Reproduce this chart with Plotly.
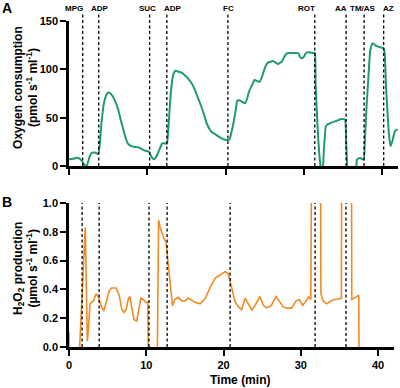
import plotly.graph_objects as go

# ---------------- data ----------------
o2_time = [0, 0.5, 1.0, 1.4, 1.75, 2.1, 2.3, 2.6, 2.9, 3.3, 3.7, 3.9, 4.1, 4.4, 4.7, 5.0, 5.3, 5.6, 6.0, 6.3,
           6.6, 6.9, 7.2, 7.5, 7.9, 8.3, 9.0, 9.7, 10.2, 10.5, 10.8, 11.1, 11.4, 11.7, 11.9, 12.2, 12.5, 12.7,
           13.0, 13.3, 13.6, 14.0, 14.4, 14.8, 15.2, 15.7, 16.1, 16.4, 16.7, 17.2, 17.6, 18.2, 18.85, 19.5,
           20.1, 20.5, 20.75, 21.0, 21.3, 21.5, 21.8, 22.2, 22.5, 22.8, 23.0, 23.4, 23.7, 24.0, 24.3, 24.6,
           24.8, 25.1, 25.4, 25.8, 26.1, 26.4, 26.7, 27.0, 27.2, 27.5, 27.8, 28.2, 28.6, 29.0, 29.3, 29.5,
           29.7, 30.0, 30.2, 30.4, 30.8, 31.2, 31.4, 31.5, 31.7, 31.85, 32.0, 32.15, 32.3, 32.45, 32.55,
           32.65, 32.8, 33.0, 33.3, 33.7, 34.2, 34.8, 35.25, 35.4, 35.55, 35.7, 36.5, 36.7, 36.8, 37.0,
           37.2, 37.5, 37.65, 37.8, 38.0, 38.2, 38.5, 38.8, 39.3, 39.95, 40.25, 40.5, 40.8, 41.0, 41.1,
           41.35, 41.65, 42.0]
o2_values = [7, 7.5, 8.5, 7.5, 4, 0, 1, 9, 13.5, 14, 12.5, 20, 40, 62, 72, 76, 75, 72, 65, 58,
             48, 39, 30, 23.5, 21, 20, 19, 16, 15, 10, 7, 9, 14, 20, 23.5, 23.5, 23, 40,
             75, 94, 98.6, 97.5, 96.5, 94, 90.7, 85, 78.6, 72, 66, 54.5, 44, 35.5, 32, 28.6,
             27, 27.5, 35, 44, 58, 67.6, 68, 66, 65, 71, 77, 84, 89, 88, 87, 91,
             96, 103, 107, 108, 108.6, 107, 105.5, 107, 108, 113, 116.6, 117, 117, 117, 116.6, 113,
             111.4, 113, 116, 117.6, 117.5, 117, 117, 85, 50, 27, 10, -1, -8, -1, 15,
             27, 40.7, 43, 44, 45.5, 46.9, 48.6, 48, 27, -2, -20, -20, -1, 7, 8,
             8.3, 7, 6.5, 27, 60, 85.5, 120, 127, 124, 122.4, 120.7, 82, 40.7, 24, 20.7,
             27, 36.5, 38]

h2o2_time = [0, 0.02, 1.3, 1.38, 1.6, 1.9, 2.1, 2.22, 2.37, 2.5, 2.72, 3.15, 3.5, 3.8, 4.2, 4.5, 4.9,
             5.2, 5.5, 6.1, 6.5, 6.8, 7.1, 7.4, 7.7, 7.9, 8.1, 8.4, 8.76, 8.97, 9.3, 9.6, 9.97, 10.2,
             10.27, 10.3, 11.4, 11.43, 11.6, 11.8, 12.0, 12.3, 12.55, 12.85, 13.15, 13.4, 13.7, 14.15,
             14.6, 15.0, 15.4, 15.9, 16.3, 16.96, 17.6, 18.25, 18.9, 19.55, 20.2, 20.6, 21.06, 21.5,
             21.9, 22.35, 22.8, 23.2, 23.65, 24.1, 24.7, 25.15, 25.6, 26.2, 26.8, 27.2, 27.7, 28.2,
             28.8, 29.4, 29.8, 30.25, 30.7, 31.0, 31.3, 31.4, 32.55, 32.6, 32.9, 33.35, 33.9, 34.2,
             34.65, 35.1, 35.25, 35.3, 36.55, 36.6, 37.0, 37.25, 37.5, 37.52, 37.55]
h2o2_values = [0.1, -0.2, -0.2, 0.0, 0.25, 0.55, 0.83, 0.5, 0.04, 0.12, 0.30, 0.32, 0.37, 0.35, 0.28, 0.25, 0.33,
               0.39, 0.41, 0.41, 0.36, 0.27, 0.24, 0.26, 0.34, 0.35, 0.28, 0.19, 0.18, 0.24, 0.34, 0.33, 0.31, 0.31,
               0.0, -0.2, -0.2, 0.0, 0.88, 0.83, 0.79, 0.75, 0.73, 0.58, 0.39, 0.285, 0.33, 0.345,
               0.32, 0.32, 0.34, 0.32, 0.31, 0.30, 0.335, 0.41, 0.477, 0.50, 0.523, 0.51, 0.41, 0.315,
               0.28, 0.26, 0.34, 0.30, 0.257, 0.29, 0.35, 0.29, 0.27, 0.29, 0.35, 0.32, 0.28, 0.27,
               0.27, 0.32, 0.33, 0.29, 0.32, 0.35, 0.33, 1.5, 1.5, 0.37, 0.32, 0.30, 0.32, 0.33,
               0.33, 0.335, 0.34, 1.5, 1.5, 0.33, 0.34, 0.35, 0.36, 0.0, -0.2]

event_labels = ["MPG", "ADP", "SUC", "ADP", "FC", "ROT", "AA", "TM/AS", "AZ"]
events_top = [1.75, 3.8, 10.3, 12.5, 20.3, 31.4, 35.4, 37.7, 40.2]
label_pos_top = [0.66, 3.96, 10.06, 13.26, 20.4, 30.33, 34.7, 37.6, 40.8]
events_bottom = [1.7, 3.9, 10.35, 12.7, 20.85, 31.85, 35.85]

x_ticks = [0, 10, 20, 30, 40]
o2_ticks = [0, 50, 100, 150]
h2o2_ticks = [0.0, 0.2, 0.4, 0.6, 0.8, 1.0]

GREEN = "#1f9a6e"
ORANGE = "#f08a24"
FONT = "Liberation Sans, Arial, sans-serif"

fig = go.Figure()
fig.add_trace(go.Scatter(x=o2_time, y=o2_values, mode="lines",
                         line=dict(color=GREEN, width=2, shape="spline", smoothing=0.5),
                         xaxis="x", yaxis="y", showlegend=False))
fig.add_trace(go.Scatter(x=h2o2_time, y=h2o2_values, mode="lines",
                         line=dict(color=ORANGE, width=1.6),
                         xaxis="x2", yaxis="y2", showlegend=False))

shapes = []
for t in events_top:
    shapes.append(dict(type="line", xref="x", yref="y domain", x0=t, x1=t, y0=0, y1=1.06,
                       line=dict(color="black", width=1.3, dash="3px,2.5px"), layer="above"))
for t in events_bottom:
    shapes.append(dict(type="line", xref="x2", yref="y2", x0=t, x1=t, y0=0, y1=1.0,
                       line=dict(color="black", width=1.3, dash="3px,2.5px"), layer="above"))

annotations = []
for lab, t in zip(event_labels, label_pos_top):
    annotations.append(dict(text=lab, x=t, y=1.083, xref="x", yref="y domain", showarrow=False,
                            xanchor="center", yanchor="middle",
                            font=dict(family=FONT, size=8, color="black", weight="bold")))

annotations += [
    dict(text="A", x=-0.21, y=1.04, xref="paper", yref="paper", showarrow=False, xanchor="left", yanchor="middle",
         font=dict(family=FONT, size=14, color="black", weight="bold")),
    dict(text="B", x=-0.21, y=0.445, xref="paper", yref="paper", showarrow=False, xanchor="left", yanchor="middle",
         font=dict(family=FONT, size=14, color="black", weight="bold")),
    dict(text="Oxygen consumption<br>(pmol s<sup>-1</sup> ml<sup>-1</sup>)", x=-0.131, y=0.7975,
         xref="paper", yref="paper", showarrow=False, textangle=-90, xanchor="center", yanchor="middle",
         font=dict(family=FONT, size=12, color="black", weight="bold")),
    dict(text="H<sub>2</sub>O<sub>2</sub> production<br>(µmol s<sup>-1</sup> ml<sup>-1</sup>)", x=-0.131, y=0.242,
         xref="paper", yref="paper", showarrow=False, textangle=-90, xanchor="center", yanchor="middle",
         font=dict(family=FONT, size=12, color="black", weight="bold")),
    dict(text="Time (min)", x=0.52, y=-0.101, xref="paper", yref="paper", showarrow=False,
         xanchor="center", yanchor="middle",
         font=dict(family=FONT, size=12, color="black", weight="bold")),
]

axis_common = dict(showline=True, linecolor="black", linewidth=2.5, ticks="outside", ticklen=6,
                   tickwidth=2, tickcolor="black", showgrid=False, zeroline=False,
                   tickfont=dict(family=FONT, size=11, color="black", weight="bold"))

fig.update_layout(
    width=400, height=388,
    margin=dict(l=69, r=2, t=21, b=41),
    paper_bgcolor="white", plot_bgcolor="white",
    xaxis=dict(domain=[0, 1], range=[0, 42.03], tickvals=x_ticks, showticklabels=False,
               anchor="y", **axis_common),
    yaxis=dict(domain=[0.555, 1.0], range=[0, 150], tickvals=o2_ticks, anchor="x", **axis_common),
    xaxis2=dict(domain=[0, 0.988], range=[0, 42.07], tickvals=x_ticks, anchor="y2", **axis_common),
    yaxis2=dict(domain=[0, 0.4417], range=[0, 1.0], tickvals=h2o2_ticks, tickformat=".1f",
                anchor="x2", **axis_common),
    shapes=shapes, annotations=annotations,
)

fig.write_html("out.html", config={"displayModeBar": False},
               post_script="document.body.style.margin='0';document.body.style.padding='0';")
